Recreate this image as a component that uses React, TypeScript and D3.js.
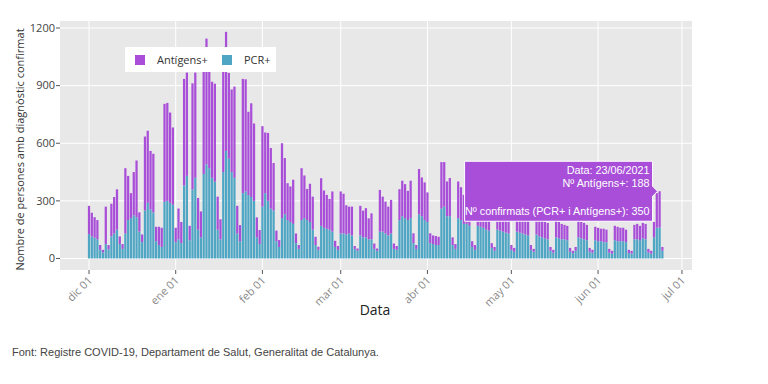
import { useEffect, useRef } from "react";
import * as d3 from "d3";

const W = 768;
const H = 384;
const DAY = 864e5;

// daily totals (PCR+ plus Antígens+)
const confirmatsDec = [274, 238, 215, 200, 70, 45, 270, 70, 285, 320, 360, 115, 75, 470, 430, 340, 450, 510, 240, 125, 635, 665, 560, 545, 165, 165, 160, 805, 810, 760, 682];
const confirmatsJan = [160, 260, 190, 935, 968, 170, 912, 968, 315, 245, 1020, 1145, 975, 920, 910, 322, 204, 1000, 1180, 966, 880, 895, 274, 174, 935, 933, 764, 808, 703, 214, 148];
const confirmatsFeb = [689, 656, 654, 575, 497, 145, 96, 600, 523, 392, 375, 410, 130, 70, 470, 432, 362, 389, 322, 113, 61, 418, 354, 331, 310, 349, 92, 65];
const confirmatsMar = [349, 337, 277, 270, 270, 65, 52, 274, 249, 262, 209, 235, 78, 52, 357, 322, 296, 270, 305, 78, 65, 361, 405, 387, 352, 405, 131, 70, 466, 422, 396];
const confirmatsApr = [344, 131, 120, 117, 113, 502, 502, 401, 419, 110, 75, 401, 371, 331, 340, 330, 90, 70, 330, 310, 290, 280, 270, 80, 60, 290, 280, 260, 250, 240];
const confirmatsMay = [70, 55, 260, 250, 240, 230, 220, 70, 50, 230, 210, 200, 190, 185, 60, 45, 200, 190, 180, 175, 170, 55, 40, 60, 200, 190, 185, 175, 55, 45, 165];
const confirmatsJun = [160, 155, 155, 150, 50, 40, 170, 165, 160, 160, 150, 45, 40, 175, 180, 170, 185, 180, 50, 40, 190, 340, 350, 60];

// daily PCR+
const pcrDec = [127, 115, 108, 100, 45, 32, 75, 48, 115, 130, 150, 75, 50, 130, 200, 210, 225, 215, 140, 85, 250, 290, 255, 240, 90, 70, 60, 295, 300, 290, 280];
const pcrJan = [85, 100, 80, 380, 430, 95, 360, 420, 150, 110, 440, 490, 470, 420, 400, 150, 100, 450, 560, 520, 450, 420, 130, 90, 340, 350, 330, 320, 300, 110, 75];
const pcrFeb = [270, 340, 300, 260, 250, 90, 60, 210, 230, 200, 190, 180, 80, 50, 200, 210, 200, 190, 150, 70, 45, 170, 160, 155, 150, 140, 60, 45];
const pcrMar = [130, 130, 125, 130, 120, 50, 40, 120, 110, 110, 100, 100, 50, 40, 140, 140, 130, 120, 130, 50, 45, 200, 220, 210, 200, 210, 80, 50, 230, 220, 200];
const pcrApr = [190, 80, 75, 70, 70, 260, 270, 220, 220, 70, 50, 210, 200, 180, 180, 170, 60, 45, 170, 165, 160, 150, 145, 55, 40, 150, 145, 140, 135, 130];
const pcrMay = [45, 35, 140, 135, 130, 125, 120, 45, 35, 125, 115, 110, 105, 100, 40, 30, 110, 105, 100, 100, 95, 35, 28, 40, 110, 105, 100, 95, 35, 30, 95];
const pcrJun = [90, 90, 85, 85, 30, 25, 95, 90, 90, 90, 85, 28, 25, 100, 100, 95, 105, 100, 30, 25, 110, 160, 162, 40];

const confirmats = [...confirmatsDec, ...confirmatsJan, ...confirmatsFeb, ...confirmatsMar, ...confirmatsApr, ...confirmatsMay, ...confirmatsJun];
const pcr = [...pcrDec, ...pcrJan, ...pcrFeb, ...pcrMar, ...pcrApr, ...pcrMay, ...pcrJun];

const firstDay = Date.UTC(2020, 11, 1);
const tickDates = [
  Date.UTC(2020, 11, 1), Date.UTC(2021, 0, 1), Date.UTC(2021, 1, 1), Date.UTC(2021, 2, 1),
  Date.UTC(2021, 3, 1), Date.UTC(2021, 4, 1), Date.UTC(2021, 5, 1), Date.UTC(2021, 6, 1),
];
const tickLabels = ["dic 01", "ene 01", "feb 01", "mar 01", "abr 01", "may 01", "jun 01", "jul 01"];
const yTicks = [0, 300, 600, 900, 1200];
const hoverDay = Date.UTC(2021, 5, 23);

const colAnt = "#a84ed8";
const colPcr = "#4ea6c4";

type Row = { date: number; pcr: number; antigens: number; total: number };

export default function App() {
  const svgRef = useRef<SVGSVGElement>(null);

  useEffect(() => {
    const svgEl = svgRef.current;
    if (!svgEl) return;
    const svg = d3.select(svgEl);
    svg.selectAll("*").remove();

    const plot = { left: 60, top: 21, right: 692, bottom: 270 };

    const rows: Row[] = confirmats.map((c, i) => ({
      date: firstDay + i * DAY,
      pcr: pcr[i],
      antigens: c - pcr[i],
      total: c,
    }));

    const x = d3
      .scaleUtc()
      .domain([firstDay - 10.37 * DAY, firstDay + 215.59 * DAY])
      .range([plot.left, plot.right]);
    const y = d3.scaleLinear().domain([-60, 1236.5]).range([plot.bottom, plot.top]);

    const bw = (x(firstDay + DAY) - x(firstDay)) * 0.8;

    svg.append("rect").attr("width", W).attr("height", H).attr("fill", "#fff");
    svg
      .append("rect")
      .attr("x", plot.left)
      .attr("y", plot.top)
      .attr("width", plot.right - plot.left)
      .attr("height", plot.bottom - plot.top)
      .attr("fill", "#e8e8e8");

    // grid
    const grid = svg.append("g").attr("stroke", "#fff").attr("stroke-width", 1);
    yTicks.forEach((t) => {
      grid.append("line").attr("x1", plot.left).attr("x2", plot.right).attr("y1", y(t)).attr("y2", y(t));
    });
    tickDates.forEach((t) => {
      grid.append("line").attr("x1", x(t)).attr("x2", x(t)).attr("y1", plot.top).attr("y2", plot.bottom);
    });

    // stacked bars, PCR+ at the bottom
    const stack = d3.stack<Row>().keys(["pcr", "antigens"]);
    const layers = stack(rows);
    const colors = [colPcr, colAnt];
    layers.forEach((layer, li) => {
      svg
        .append("g")
        .attr("fill", colors[li])
        .selectAll("rect")
        .data(layer)
        .join("rect")
        .attr("x", (d) => x(d.data.date) - bw / 2)
        .attr("width", bw)
        .attr("y", (d) => y(d[1]))
        .attr("height", (d) => Math.max(0, y(d[0]) - y(d[1])));
    });

    // y axis
    const yAx = svg.append("g").attr("font-family", "'Open Sans', sans-serif").attr("font-size", 11).attr("fill", "#444");
    yTicks.forEach((t) => {
      yAx.append("line").attr("x1", plot.left - 4).attr("x2", plot.left).attr("y1", y(t)).attr("y2", y(t)).attr("stroke", "#555");
      yAx.append("text").attr("x", plot.left - 5).attr("y", y(t)).attr("dy", "0.35em").attr("text-anchor", "end").text(d3.format("d")(t));
    });
    svg
      .append("text")
      .attr("transform", `translate(24,${(plot.top + plot.bottom) / 2 + 4}) rotate(-90)`)
      .attr("text-anchor", "middle")
      .attr("font-family", "'Open Sans', sans-serif")
      .attr("font-size", 11)
      .attr("fill", "#333")
      .text("Nombre de persones amb diagnòstic confirmat");

    // x axis
    const xAx = svg.append("g").attr("font-family", "'Open Sans', sans-serif").attr("font-size", 11).attr("fill", "#888");
    tickDates.forEach((t, i) => {
      xAx.append("line").attr("x1", x(t)).attr("x2", x(t)).attr("y1", plot.bottom).attr("y2", plot.bottom + 4).attr("stroke", "#555");
      xAx
        .append("text")
        .attr("transform", `translate(${x(t) + 4},${plot.bottom + 11}) rotate(-45)`)
        .attr("text-anchor", "end")
        .text(tickLabels[i]);
    });
    svg
      .append("text")
      .attr("x", 375)
      .attr("y", 315)
      .attr("text-anchor", "middle")
      .attr("font-family", "'Open Sans', sans-serif")
      .attr("font-size", 14)
      .attr("fill", "#222")
      .text("Data");

    // legend
    const lg = svg.append("g").attr("font-family", "'Open Sans', sans-serif").attr("font-size", 11).attr("fill", "#333");
    lg.append("rect").attr("x", 125).attr("y", 47).attr("width", 151).attr("height", 25).attr("fill", "#fff");
    [
      { name: "Antígens+", color: colAnt, x: 135 },
      { name: "PCR+", color: colPcr, x: 222 },
    ].forEach((s) => {
      lg.append("rect").attr("x", s.x).attr("y", 55).attr("width", 10).attr("height", 10).attr("fill", s.color);
      lg.append("text").attr("x", s.x + 22).attr("y", 64).text(s.name);
    });

    // hover label for 23/06/2021
    const hov = rows.find((r) => r.date === hoverDay)!;
    const tipX = x(hov.date) - 2;
    const tipY = y(hov.total);
    const bxR = tipX - 5;
    const bxW = 188;
    const bxH = 60;
    const tip = svg.append("g");
    tip
      .append("path")
      .attr(
        "d",
        `M${bxR - bxW},${tipY - bxH / 2}H${bxR}V${tipY - 5}L${tipX},${tipY}L${bxR},${tipY + 5}V${tipY + bxH / 2}H${bxR - bxW}Z`
      )
      .attr("fill", colAnt)
      .attr("stroke", "#fff")
      .attr("stroke-width", 1);
    const tt = tip
      .append("g")
      .attr("font-family", "'Liberation Sans', Arial, sans-serif")
      .attr("font-size", 10.8)
      .attr("fill", "#fff")
      .attr("text-anchor", "end");
    const fmt = d3.utcFormat("%d/%m/%Y");
    tt.append("text").attr("x", bxR - 3).attr("y", tipY - 17).text(`Data: ${fmt(new Date(hov.date))}`);
    tt.append("text").attr("x", bxR - 3).attr("y", tipY - 4).text(`Nº Antígens+: ${hov.antigens}`);
    tt.append("text").attr("x", bxR - 3).attr("y", tipY + 24).text(`Nº confirmats (PCR+ i Antígens+): ${hov.total}`);

    // source
    svg
      .append("text")
      .attr("x", 12)
      .attr("y", 356)
      .attr("font-family", "'Liberation Sans', Arial, sans-serif")
      .attr("font-size", 11)
      .attr("fill", "#444")
      .text("Font: Registre COVID-19, Departament de Salut, Generalitat de Catalunya.");
  }, []);

  return (
    <div style={{ position: "absolute", left: 0, top: 0, width: W, height: H }}>
      <svg ref={svgRef} width={W} height={H} style={{ display: "block" }} />
    </div>
  );
}
